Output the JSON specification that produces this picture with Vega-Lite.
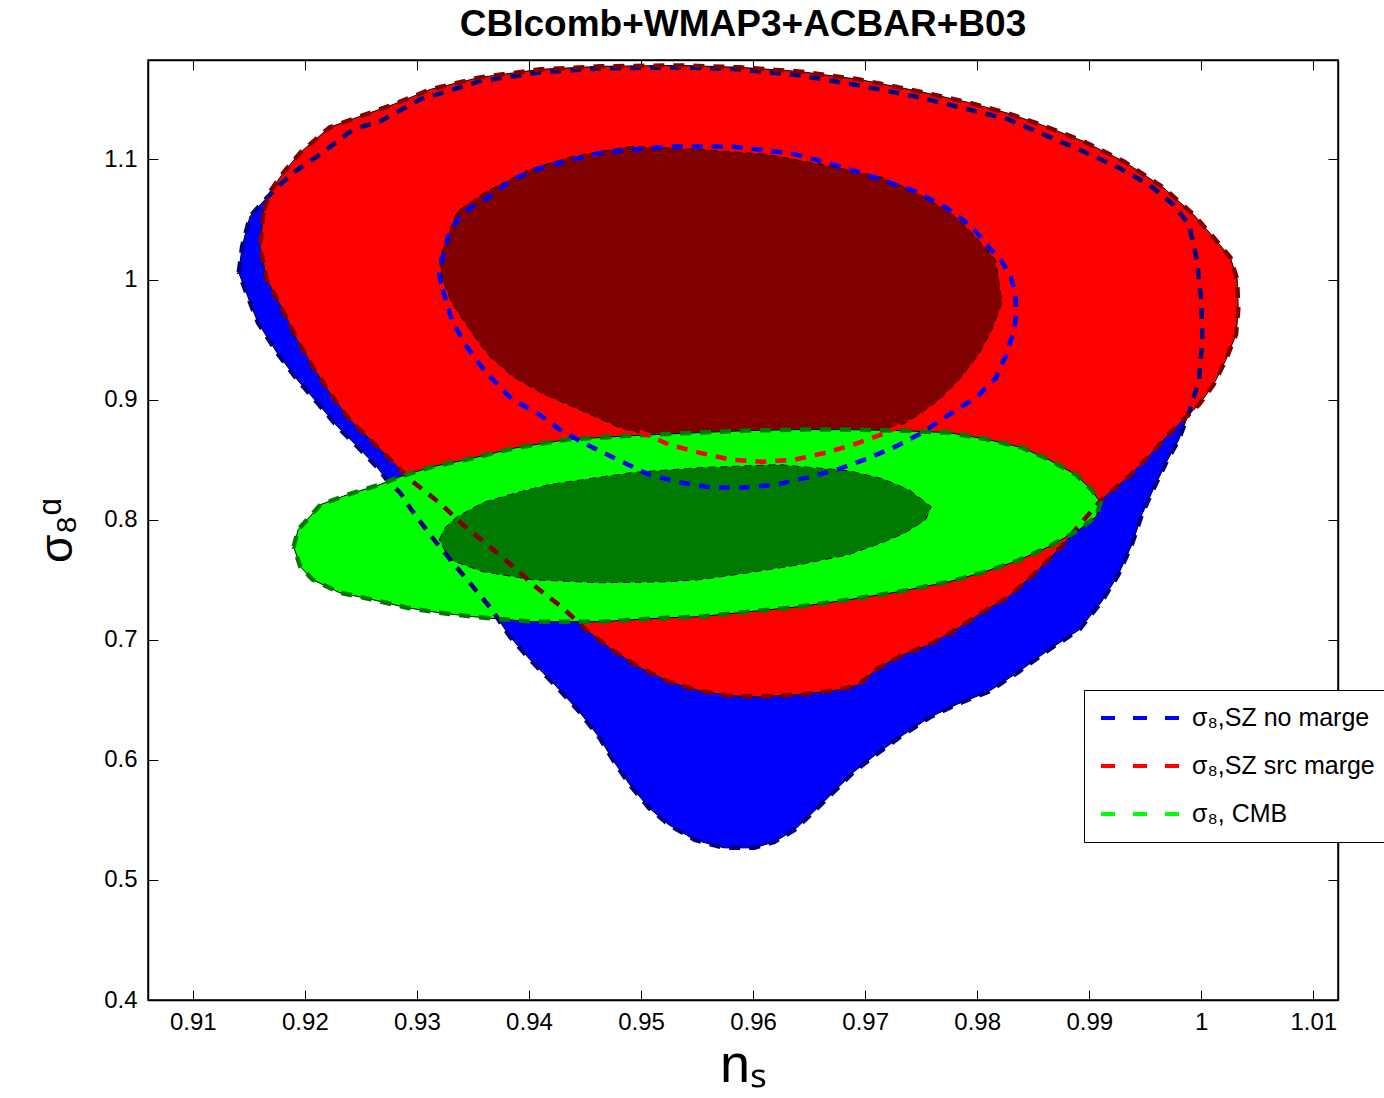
{
  "$schema": "https://vega.github.io/schema/vega-lite/v6.json",
  "width": 1190,
  "height": 940,
  "autosize": {"type": "none"},
  "padding": {"left": 148, "top": 60, "right": 46, "bottom": 98},
  "background": "white",
  "title": {"text": "CBIcomb+WMAP3+ACBAR+B03", "font": "Liberation Sans", "fontSize": 37, "fontWeight": "bold", "color": "black", "frame": "group", "anchor": "middle", "offset": 12},
  "config": {
    "view": {"stroke": "black", "strokeWidth": 1.5},
    "axis": {"grid": false, "domainColor": "black", "domainWidth": 1.5, "tickColor": "black", "tickWidth": 1, "labelColor": "black", "titleColor": "black", "labelFont": "Liberation Sans", "titleFont": "Liberation Sans", "titleFontWeight": "normal"}
  },
  "datasets": {
    "blueOuter": [
      {"ns":0.9141,"s8":1.0058},{"ns":0.9144,"s8":1.0275},{"ns":0.9151,"s8":1.0525},{"ns":0.9162,"s8":1.0642},{"ns":0.9176,"s8":1.0775},{"ns":0.9190,"s8":1.0892},{"ns":0.9216,"s8":1.1058},{"ns":0.9243,"s8":1.1250},{"ns":0.9267,"s8":1.1317},{"ns":0.9303,"s8":1.1500},{"ns":0.9356,"s8":1.1650},{"ns":0.9410,"s8":1.1725},{"ns":0.9463,"s8":1.1758},{"ns":0.9534,"s8":1.1767},{"ns":0.9588,"s8":1.1750},{"ns":0.9641,"s8":1.1700},{"ns":0.9694,"s8":1.1617},{"ns":0.9748,"s8":1.1517},{"ns":0.9792,"s8":1.1417},{"ns":0.9828,"s8":1.1333},{"ns":0.9855,"s8":1.1225},{"ns":0.9891,"s8":1.1083},{"ns":0.9926,"s8":1.0933},{"ns":0.9953,"s8":1.0792},{"ns":0.9975,"s8":1.0625},{"ns":0.9989,"s8":1.0458},{"ns":0.9996,"s8":1.0167},{"ns":1.0000,"s8":0.9833},{"ns":1.0001,"s8":0.9500},{"ns":0.9998,"s8":0.9167},{"ns":0.9990,"s8":0.8917},{"ns":0.9980,"s8":0.8667},{"ns":0.9969,"s8":0.8483},{"ns":0.9957,"s8":0.8250},{"ns":0.9947,"s8":0.8042},{"ns":0.9938,"s8":0.7792},{"ns":0.9926,"s8":0.7542},{"ns":0.9911,"s8":0.7317},{"ns":0.9891,"s8":0.7083},{"ns":0.9864,"s8":0.6917},{"ns":0.9837,"s8":0.6733},{"ns":0.9810,"s8":0.6567},{"ns":0.9783,"s8":0.6467},{"ns":0.9757,"s8":0.6350},{"ns":0.9730,"s8":0.6183},{"ns":0.9708,"s8":0.6033},{"ns":0.9690,"s8":0.5900},{"ns":0.9672,"s8":0.5733},{"ns":0.9654,"s8":0.5567},{"ns":0.9637,"s8":0.5417},{"ns":0.9619,"s8":0.5317},{"ns":0.9601,"s8":0.5267},{"ns":0.9574,"s8":0.5267},{"ns":0.9548,"s8":0.5333},{"ns":0.9525,"s8":0.5458},{"ns":0.9507,"s8":0.5600},{"ns":0.9490,"s8":0.5792},{"ns":0.9476,"s8":0.5983},{"ns":0.9463,"s8":0.6183},{"ns":0.9445,"s8":0.6400},{"ns":0.9423,"s8":0.6625},{"ns":0.9401,"s8":0.6833},{"ns":0.9383,"s8":0.7025},{"ns":0.9367,"s8":0.7250},{"ns":0.9350,"s8":0.7442},{"ns":0.9332,"s8":0.7642},{"ns":0.9313,"s8":0.7858},{"ns":0.9295,"s8":0.8083},{"ns":0.9285,"s8":0.8225},{"ns":0.9273,"s8":0.8333},{"ns":0.9264,"s8":0.8442},{"ns":0.9247,"s8":0.8608},{"ns":0.9229,"s8":0.8775},{"ns":0.9211,"s8":0.8975},{"ns":0.9193,"s8":0.9167},{"ns":0.9175,"s8":0.9392},{"ns":0.9158,"s8":0.9642},{"ns":0.9149,"s8":0.9858},{"ns":0.9141,"s8":1.0058}
    ],
    "redOuter": [
      {"ns":0.9163,"s8":1.0558},{"ns":0.9160,"s8":1.0275},{"ns":0.9166,"s8":1.0000},{"ns":0.9180,"s8":0.9750},{"ns":0.9193,"s8":0.9500},{"ns":0.9207,"s8":0.9275},{"ns":0.9222,"s8":0.9058},{"ns":0.9240,"s8":0.8833},{"ns":0.9261,"s8":0.8642},{"ns":0.9279,"s8":0.8475},{"ns":0.9296,"s8":0.8317},{"ns":0.9320,"s8":0.8142},{"ns":0.9341,"s8":0.7958},{"ns":0.9365,"s8":0.7775},{"ns":0.9386,"s8":0.7608},{"ns":0.9407,"s8":0.7433},{"ns":0.9430,"s8":0.7267},{"ns":0.9451,"s8":0.7083},{"ns":0.9474,"s8":0.6917},{"ns":0.9499,"s8":0.6767},{"ns":0.9525,"s8":0.6650},{"ns":0.9552,"s8":0.6575},{"ns":0.9579,"s8":0.6533},{"ns":0.9605,"s8":0.6525},{"ns":0.9641,"s8":0.6542},{"ns":0.9677,"s8":0.6583},{"ns":0.9694,"s8":0.6625},{"ns":0.9712,"s8":0.6767},{"ns":0.9734,"s8":0.6875},{"ns":0.9757,"s8":0.6958},{"ns":0.9781,"s8":0.7083},{"ns":0.9804,"s8":0.7225},{"ns":0.9828,"s8":0.7358},{"ns":0.9852,"s8":0.7558},{"ns":0.9875,"s8":0.7775},{"ns":0.9893,"s8":0.7975},{"ns":0.9911,"s8":0.8167},{"ns":0.9935,"s8":0.8358},{"ns":0.9953,"s8":0.8525},{"ns":0.9969,"s8":0.8692},{"ns":0.9984,"s8":0.8833},{"ns":0.9998,"s8":0.8958},{"ns":1.0011,"s8":0.9125},{"ns":1.0022,"s8":0.9333},{"ns":1.0031,"s8":0.9542},{"ns":1.0033,"s8":0.9750},{"ns":1.0032,"s8":1.0000},{"ns":1.0026,"s8":1.0183},{"ns":1.0011,"s8":1.0350},{"ns":0.9993,"s8":1.0542},{"ns":0.9966,"s8":1.0767},{"ns":0.9931,"s8":1.0983},{"ns":0.9895,"s8":1.1150},{"ns":0.9859,"s8":1.1283},{"ns":0.9828,"s8":1.1383},{"ns":0.9792,"s8":1.1475},{"ns":0.9748,"s8":1.1567},{"ns":0.9694,"s8":1.1667},{"ns":0.9641,"s8":1.1733},{"ns":0.9588,"s8":1.1767},{"ns":0.9534,"s8":1.1783},{"ns":0.9463,"s8":1.1775},{"ns":0.9410,"s8":1.1750},{"ns":0.9356,"s8":1.1683},{"ns":0.9312,"s8":1.1583},{"ns":0.9279,"s8":1.1458},{"ns":0.9249,"s8":1.1358},{"ns":0.9222,"s8":1.1267},{"ns":0.9196,"s8":1.1058},{"ns":0.9181,"s8":1.0892},{"ns":0.9169,"s8":1.0733},{"ns":0.9163,"s8":1.0558}
    ],
    "redInner": [
      {"ns":0.9320,"s8":1.0167},{"ns":0.9323,"s8":1.0000},{"ns":0.9331,"s8":0.9808},{"ns":0.9341,"s8":0.9667},{"ns":0.9352,"s8":0.9517},{"ns":0.9365,"s8":0.9358},{"ns":0.9387,"s8":0.9183},{"ns":0.9414,"s8":0.9042},{"ns":0.9445,"s8":0.8917},{"ns":0.9481,"s8":0.8767},{"ns":0.9505,"s8":0.8708},{"ns":0.9525,"s8":0.8625},{"ns":0.9552,"s8":0.8558},{"ns":0.9580,"s8":0.8500},{"ns":0.9608,"s8":0.8483},{"ns":0.9637,"s8":0.8500},{"ns":0.9665,"s8":0.8558},{"ns":0.9692,"s8":0.8633},{"ns":0.9719,"s8":0.8725},{"ns":0.9733,"s8":0.8792},{"ns":0.9748,"s8":0.8875},{"ns":0.9766,"s8":0.9000},{"ns":0.9784,"s8":0.9167},{"ns":0.9801,"s8":0.9375},{"ns":0.9813,"s8":0.9583},{"ns":0.9822,"s8":0.9808},{"ns":0.9819,"s8":1.0000},{"ns":0.9816,"s8":1.0167},{"ns":0.9795,"s8":1.0392},{"ns":0.9775,"s8":1.0567},{"ns":0.9745,"s8":1.0725},{"ns":0.9715,"s8":1.0850},{"ns":0.9670,"s8":1.0942},{"ns":0.9612,"s8":1.1042},{"ns":0.9552,"s8":1.1083},{"ns":0.9490,"s8":1.1108},{"ns":0.9436,"s8":1.1017},{"ns":0.9401,"s8":1.0917},{"ns":0.9362,"s8":1.0733},{"ns":0.9336,"s8":1.0567},{"ns":0.9328,"s8":1.0375},{"ns":0.9320,"s8":1.0167}
    ],
    "greenOuter": [
      {"ns":0.9190,"s8":0.7775},{"ns":0.9194,"s8":0.7917},{"ns":0.9202,"s8":0.8000},{"ns":0.9214,"s8":0.8125},{"ns":0.9238,"s8":0.8208},{"ns":0.9267,"s8":0.8292},{"ns":0.9285,"s8":0.8358},{"ns":0.9314,"s8":0.8442},{"ns":0.9344,"s8":0.8500},{"ns":0.9389,"s8":0.8600},{"ns":0.9434,"s8":0.8667},{"ns":0.9492,"s8":0.8700},{"ns":0.9552,"s8":0.8725},{"ns":0.9596,"s8":0.8742},{"ns":0.9641,"s8":0.8750},{"ns":0.9685,"s8":0.8750},{"ns":0.9730,"s8":0.8742},{"ns":0.9775,"s8":0.8725},{"ns":0.9810,"s8":0.8667},{"ns":0.9840,"s8":0.8600},{"ns":0.9864,"s8":0.8500},{"ns":0.9888,"s8":0.8375},{"ns":0.9902,"s8":0.8250},{"ns":0.9910,"s8":0.8142},{"ns":0.9906,"s8":0.8025},{"ns":0.9891,"s8":0.7917},{"ns":0.9864,"s8":0.7775},{"ns":0.9834,"s8":0.7650},{"ns":0.9804,"s8":0.7558},{"ns":0.9775,"s8":0.7483},{"ns":0.9730,"s8":0.7400},{"ns":0.9685,"s8":0.7333},{"ns":0.9641,"s8":0.7275},{"ns":0.9596,"s8":0.7233},{"ns":0.9552,"s8":0.7192},{"ns":0.9523,"s8":0.7183},{"ns":0.9463,"s8":0.7150},{"ns":0.9403,"s8":0.7150},{"ns":0.9350,"s8":0.7192},{"ns":0.9320,"s8":0.7225},{"ns":0.9291,"s8":0.7267},{"ns":0.9261,"s8":0.7333},{"ns":0.9231,"s8":0.7392},{"ns":0.9207,"s8":0.7500},{"ns":0.9196,"s8":0.7608},{"ns":0.9190,"s8":0.7775}
    ],
    "greenInner": [
      {"ns":0.9320,"s8":0.7833},{"ns":0.9325,"s8":0.7933},{"ns":0.9336,"s8":0.8025},{"ns":0.9359,"s8":0.8142},{"ns":0.9389,"s8":0.8225},{"ns":0.9418,"s8":0.8292},{"ns":0.9448,"s8":0.8333},{"ns":0.9492,"s8":0.8392},{"ns":0.9552,"s8":0.8433},{"ns":0.9623,"s8":0.8458},{"ns":0.9685,"s8":0.8408},{"ns":0.9715,"s8":0.8342},{"ns":0.9739,"s8":0.8250},{"ns":0.9759,"s8":0.8108},{"ns":0.9754,"s8":0.8000},{"ns":0.9736,"s8":0.7892},{"ns":0.9715,"s8":0.7808},{"ns":0.9685,"s8":0.7708},{"ns":0.9641,"s8":0.7625},{"ns":0.9596,"s8":0.7558},{"ns":0.9552,"s8":0.7500},{"ns":0.9523,"s8":0.7483},{"ns":0.9463,"s8":0.7475},{"ns":0.9403,"s8":0.7500},{"ns":0.9359,"s8":0.7567},{"ns":0.9329,"s8":0.7667},{"ns":0.9320,"s8":0.7833}
    ],
    "inner": [
      {"series":"σ₈,SZ no marge","ns":0.9323,"s8":0.9917},{"series":"σ₈,SZ no marge","ns":0.9331,"s8":0.9667},{"series":"σ₈,SZ no marge","ns":0.9343,"s8":0.9458},{"series":"σ₈,SZ no marge","ns":0.9361,"s8":0.9233},{"series":"σ₈,SZ no marge","ns":0.9385,"s8":0.9000},{"series":"σ₈,SZ no marge","ns":0.9407,"s8":0.8892},{"series":"σ₈,SZ no marge","ns":0.9430,"s8":0.8733},{"series":"σ₈,SZ no marge","ns":0.9457,"s8":0.8600},{"series":"σ₈,SZ no marge","ns":0.9483,"s8":0.8483},{"series":"σ₈,SZ no marge","ns":0.9507,"s8":0.8375},{"series":"σ₈,SZ no marge","ns":0.9536,"s8":0.8308},{"series":"σ₈,SZ no marge","ns":0.9564,"s8":0.8267},{"series":"σ₈,SZ no marge","ns":0.9592,"s8":0.8267},{"series":"σ₈,SZ no marge","ns":0.9621,"s8":0.8292},{"series":"σ₈,SZ no marge","ns":0.9648,"s8":0.8350},{"series":"σ₈,SZ no marge","ns":0.9675,"s8":0.8417},{"series":"σ₈,SZ no marge","ns":0.9702,"s8":0.8508},{"series":"σ₈,SZ no marge","ns":0.9727,"s8":0.8608},{"series":"σ₈,SZ no marge","ns":0.9751,"s8":0.8725},{"series":"σ₈,SZ no marge","ns":0.9775,"s8":0.8875},{"series":"σ₈,SZ no marge","ns":0.9800,"s8":0.9025},{"series":"σ₈,SZ no marge","ns":0.9817,"s8":0.9183},{"series":"σ₈,SZ no marge","ns":0.9826,"s8":0.9375},{"series":"σ₈,SZ no marge","ns":0.9833,"s8":0.9583},{"series":"σ₈,SZ no marge","ns":0.9835,"s8":0.9725},{"series":"σ₈,SZ no marge","ns":0.9834,"s8":0.9875},{"series":"σ₈,SZ no marge","ns":0.9830,"s8":1.0025},{"series":"σ₈,SZ no marge","ns":0.9822,"s8":1.0150},{"series":"σ₈,SZ no marge","ns":0.9812,"s8":1.0250},{"series":"σ₈,SZ no marge","ns":0.9795,"s8":1.0442},{"series":"σ₈,SZ no marge","ns":0.9772,"s8":1.0600},{"series":"σ₈,SZ no marge","ns":0.9745,"s8":1.0733},{"series":"σ₈,SZ no marge","ns":0.9719,"s8":1.0817},{"series":"σ₈,SZ no marge","ns":0.9692,"s8":1.0900},{"series":"σ₈,SZ no marge","ns":0.9665,"s8":1.0975},{"series":"σ₈,SZ no marge","ns":0.9638,"s8":1.1042},{"series":"σ₈,SZ no marge","ns":0.9612,"s8":1.1075},{"series":"σ₈,SZ no marge","ns":0.9581,"s8":1.1108},{"series":"σ₈,SZ no marge","ns":0.9552,"s8":1.1108},{"series":"σ₈,SZ no marge","ns":0.9525,"s8":1.1108},{"series":"σ₈,SZ no marge","ns":0.9496,"s8":1.1083},{"series":"σ₈,SZ no marge","ns":0.9466,"s8":1.1058},{"series":"σ₈,SZ no marge","ns":0.9439,"s8":1.1000},{"series":"σ₈,SZ no marge","ns":0.9412,"s8":1.0933},{"series":"σ₈,SZ no marge","ns":0.9385,"s8":1.0833},{"series":"σ₈,SZ no marge","ns":0.9365,"s8":1.0692},{"series":"σ₈,SZ no marge","ns":0.9341,"s8":1.0558},{"series":"σ₈,SZ no marge","ns":0.9329,"s8":1.0400},{"series":"σ₈,SZ no marge","ns":0.9323,"s8":1.0183},{"series":"σ₈,SZ no marge","ns":0.9320,"s8":1.0042},{"series":"σ₈,SZ no marge","ns":0.9323,"s8":0.9917},
      {"series":"σ₈,SZ src marge","ns":0.9499,"s8":0.8733},{"series":"σ₈,SZ src marge","ns":0.9505,"s8":0.8708},{"series":"σ₈,SZ src marge","ns":0.9525,"s8":0.8625},{"series":"σ₈,SZ src marge","ns":0.9552,"s8":0.8558},{"series":"σ₈,SZ src marge","ns":0.9580,"s8":0.8500},{"series":"σ₈,SZ src marge","ns":0.9608,"s8":0.8483},{"series":"σ₈,SZ src marge","ns":0.9637,"s8":0.8500},{"series":"σ₈,SZ src marge","ns":0.9665,"s8":0.8558},{"series":"σ₈,SZ src marge","ns":0.9692,"s8":0.8633},{"series":"σ₈,SZ src marge","ns":0.9719,"s8":0.8725},{"series":"σ₈,SZ src marge","ns":0.9733,"s8":0.8792}
    ]
  },
  "resolve": {"axis": {"x": "independent", "y": "independent"}},
  "layer": [
    {
      "data": {"name": "blueOuter"},
      "mark": {"type": "line", "fill": "#0000ff", "stroke": "black", "strokeWidth": 1},
      "encoding": {
        "x": {"field": "ns", "type": "quantitative", "scale": {"domain": [0.906, 1.0122], "nice": false, "zero": false},
              "axis": {"orient": "bottom", "values": [0.91,0.92,0.93,0.94,0.95,0.96,0.97,0.98,0.99,1.0,1.01], "format": ".2~f", "labelFontSize": 24, "tickSize": -10, "labelPadding": 20, "title": "nₛ", "titleFontSize": 54, "titlePadding": 4}},
        "y": {"field": "s8", "type": "quantitative", "scale": {"domain": [0.4, 1.1828], "nice": false, "zero": false},
              "axis": {"orient": "left", "values": [0.4,0.5,0.6,0.7,0.8,0.9,1.0,1.1], "format": ".2~f", "labelFontSize": 24, "tickSize": -10, "labelPadding": 21, "title": "σ₈ᵅ", "titleFontSize": 46, "titlePadding": 22}},
        "order": {"value": null}
      }
    },
    {
      "data": {"name": "redOuter"},
      "mark": {"type": "line", "fill": "#ff0000", "stroke": "black", "strokeWidth": 1},
      "encoding": {"x": {"field": "ns", "type": "quantitative", "axis": null}, "y": {"field": "s8", "type": "quantitative", "axis": null}, "order": {"value": null}}
    },
    {
      "data": {"name": "redInner"},
      "mark": {"type": "line", "fill": "#800000", "stroke": "black", "strokeWidth": 1, "strokeDash": [7, 5]},
      "encoding": {"x": {"field": "ns", "type": "quantitative", "axis": null}, "y": {"field": "s8", "type": "quantitative", "axis": null}, "order": {"value": null}}
    },
    {
      "data": {"name": "greenOuter"},
      "mark": {"type": "line", "fill": "#00ff00", "stroke": "black", "strokeWidth": 1},
      "encoding": {"x": {"field": "ns", "type": "quantitative", "axis": null}, "y": {"field": "s8", "type": "quantitative", "axis": null}, "order": {"value": null}}
    },
    {
      "data": {"name": "greenInner"},
      "mark": {"type": "line", "fill": "#007a00", "stroke": "black", "strokeWidth": 1, "strokeDash": [7, 5]},
      "encoding": {"x": {"field": "ns", "type": "quantitative", "axis": null}, "y": {"field": "s8", "type": "quantitative", "axis": null}, "order": {"value": null}}
    },
    {
      "data": {"name": "blueOuter"},
      "mark": {"type": "line", "stroke": "#000080", "strokeWidth": 4.5, "strokeDash": [11, 9]},
      "encoding": {
        "x": {"field": "ns", "type": "quantitative", "axis": {"orient": "top", "labels": false, "title": null, "values": [0.91,0.92,0.93,0.94,0.95,0.96,0.97,0.98,0.99,1.0,1.01], "tickSize": -10}},
        "y": {"field": "s8", "type": "quantitative", "axis": {"orient": "right", "labels": false, "title": null, "values": [0.4,0.5,0.6,0.7,0.8,0.9,1.0,1.1], "tickSize": -10}},
        "order": {"value": null}
      }
    },
    {
      "data": {"name": "redOuter"},
      "mark": {"type": "line", "stroke": "#800000", "strokeWidth": 4.5, "strokeDash": [11, 9]},
      "encoding": {"x": {"field": "ns", "type": "quantitative", "axis": null}, "y": {"field": "s8", "type": "quantitative", "axis": null}, "order": {"value": null}}
    },
    {
      "data": {"name": "greenOuter"},
      "mark": {"type": "line", "stroke": "#007a00", "strokeWidth": 4.5, "strokeDash": [11, 9]},
      "encoding": {"x": {"field": "ns", "type": "quantitative", "axis": null}, "y": {"field": "s8", "type": "quantitative", "axis": null}, "order": {"value": null}}
    },
    {
      "data": {"name": "inner"},
      "mark": {"type": "line", "strokeWidth": 4.5, "strokeDash": [11, 9]},
      "encoding": {
        "x": {"field": "ns", "type": "quantitative", "axis": null},
        "y": {"field": "s8", "type": "quantitative", "axis": null},
        "order": {"value": null},
        "stroke": {"field": "series", "type": "nominal",
          "scale": {"domain": ["σ₈,SZ no marge", "σ₈,SZ src marge", "σ₈, CMB"], "range": ["#0000ff", "#ff0000", "#00ff00"]},
          "legend": {"orient": "none", "legendX": 936, "legendY": 630, "title": null, "zindex": 2,
            "symbolType": "stroke", "symbolSize": 6400, "symbolStrokeWidth": 4, "symbolDash": [14, 18],
            "clipHeight": 26, "rowPadding": 22, "padding": 15, "strokeColor": "black", "fillColor": "white", "cornerRadius": 0,
            "labelFont": "Liberation Sans", "labelFontSize": 25, "labelColor": "black", "labelLimit": 400, "labelOffset": 9}}
      }
    }
  ]
}
